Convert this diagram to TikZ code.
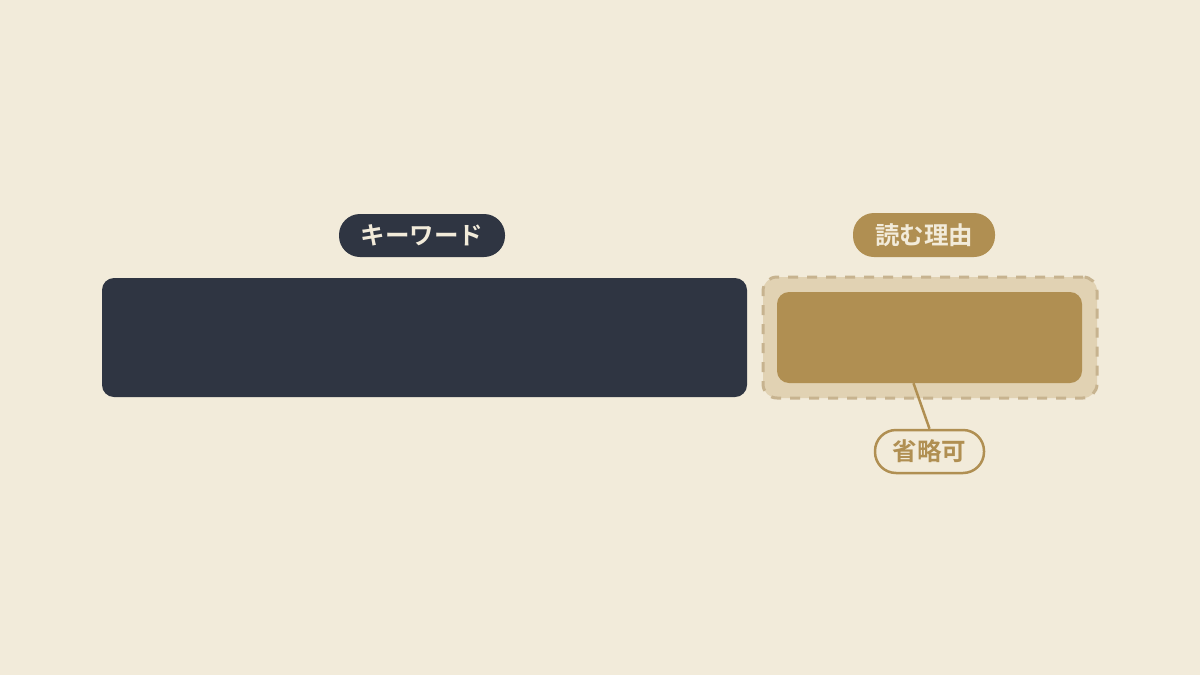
\documentclass[tikz,border=0pt]{standalone}
\usepackage{fontspec}
\newfontfamily\cjk{Noto Sans CJK JP Bold}
\usetikzlibrary{calc}

\definecolor{paper}{HTML}{F2EBDA}
\definecolor{ink}{HTML}{2F3542}
\definecolor{gold}{HTML}{B08F52}
\definecolor{sand}{HTML}{E1D2B3}
\definecolor{dune}{HTML}{C7B38F}

\begin{document}
\begin{tikzpicture}[x=1pt,y=-1pt,
  slab/.style={rounded corners=12pt,inner sep=0pt},
  pill/.style={rounded corners=21pt,inner sep=0pt,minimum height=43pt,
    font=\cjk\fontsize{24.5}{24.5}\selectfont}]

\fill[paper] (0,0) rectangle (1200,675);

% keyword part
\node[pill,fill=ink,text=paper,minimum width=166pt] (keytag) at (422,235.5) {キーワード};
\node[slab,fill=ink,minimum width=645pt,minimum height=119pt] (key) at (424.5,337.5) {};

% reason part
\node[pill,fill=gold,text=paper,minimum width=142pt,minimum height=44pt] (whytag) at (924,235) {読む理由};
\node[slab,rounded corners=14pt,fill=sand,draw=dune,line width=3pt,
  dash pattern=on 10pt off 9pt,minimum width=334pt,minimum height=121pt] (frame) at (930,337.5) {};
\node[slab,fill=gold,minimum width=305pt,minimum height=91pt] (why) at (929.5,337.5) {};

% optional mark
\node[pill,fill=paper,draw=gold,line width=2.5pt,text=gold,minimum width=109pt] (opt) at (929.5,451.5) {省略可};
\coordinate (tie) at ($(why.south)+(-16,0)$);
\draw[gold,line width=2.5pt] (tie) -- (opt.north);

\end{tikzpicture}
\end{document}
